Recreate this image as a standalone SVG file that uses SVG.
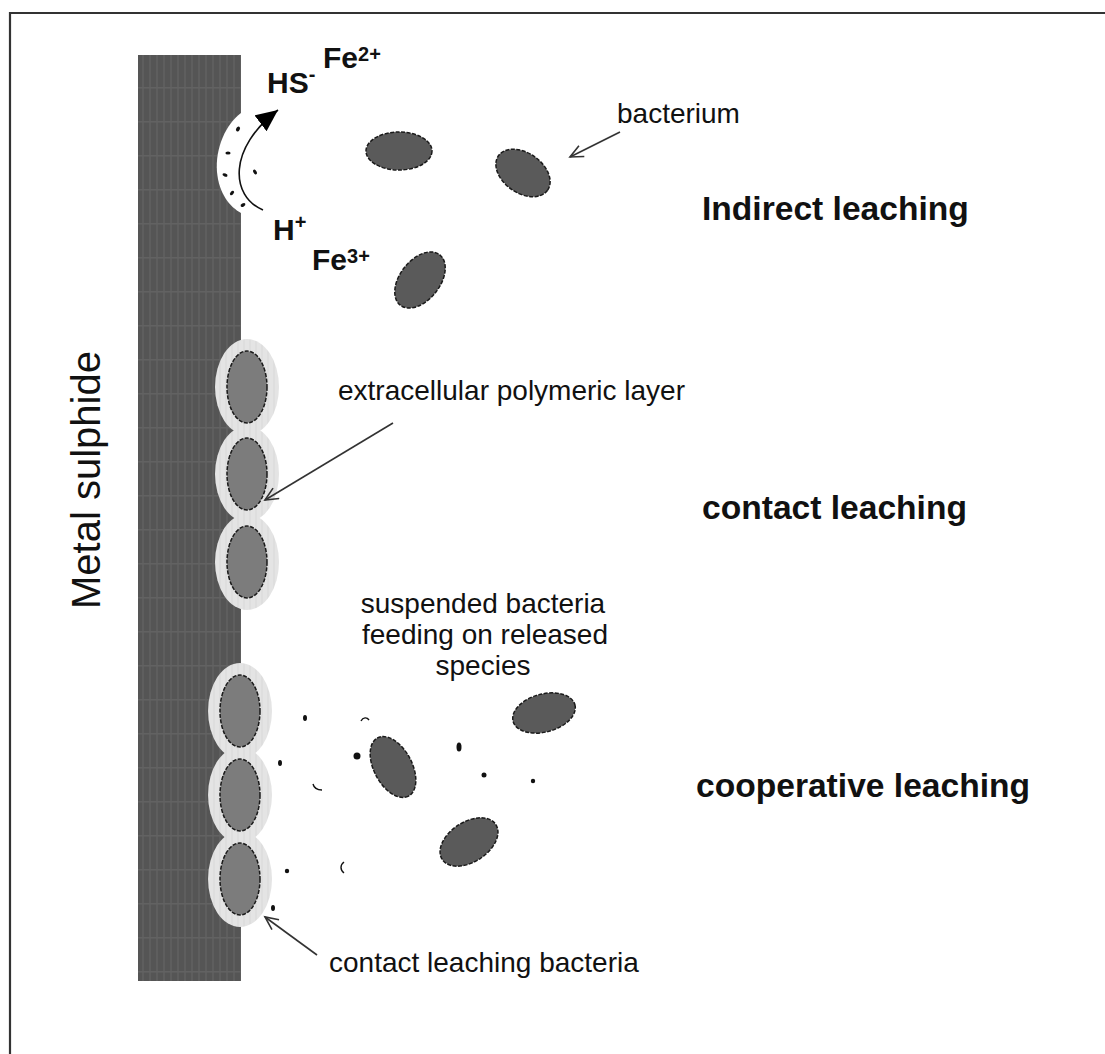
<svg xmlns="http://www.w3.org/2000/svg" width="1105" height="1054" viewBox="0 0 1105 1054">
  <style>
    .label { font-family: "Liberation Sans", Arial, sans-serif; font-size: 28px; fill: #111; }
    .head { font-family: "Liberation Sans", Arial, sans-serif; font-size: 33.6px; font-weight: bold; fill: #111; }
    .chem { font-family: "Liberation Sans", Arial, sans-serif; font-size: 30px; font-weight: bold; fill: #111; }
    .sup { font-size: 20px; }
    .cell { fill: #5a5a5a; stroke: #1a1a1a; stroke-width: 1.5; stroke-dasharray: 4 1.5; }
    .inner { fill: #7c7c7c; stroke: #1a1a1a; stroke-width: 1.5; stroke-dasharray: 4 1.5; }
    .halo { fill: url(#haloFill); }
    .dot { fill: #111; }
    .pointer { fill: none; stroke: #333; stroke-width: 1.6; marker-end: url(#openHead); }
  </style>
  <defs>
    <!-- striped mineral texture -->
    <pattern id="mineral" width="7" height="34" patternUnits="userSpaceOnUse" x="138" y="55">
      <rect width="7" height="34" fill="#555"/>
      <rect x="4" width="2" height="34" fill="#5e5e5e"/>
      <rect y="32" width="7" height="1.5" fill="#626262"/>
    </pattern>
    <pattern id="haloFill" width="6" height="10" patternUnits="userSpaceOnUse">
      <rect width="6" height="10" fill="#e4e4e4"/>
      <rect x="3" width="2" height="10" fill="#dedede"/>
    </pattern>
    <marker id="openHead" markerWidth="18" markerHeight="18" refX="14" refY="7" orient="auto" markerUnits="userSpaceOnUse">
      <path d="M1,1 L14,7 L1,13" fill="none" stroke="#333" stroke-width="1.6"/>
    </marker>
    <marker id="solidHead" markerWidth="26" markerHeight="22" refX="22" refY="10" orient="auto" markerUnits="userSpaceOnUse">
      <path d="M0,0 L22,10 L0,20 Z" fill="#000"/>
    </marker>
  </defs>

  <rect width="1105" height="1054" fill="#fff"/>

  <!-- frame -->
  <path d="M10,1054 V13 H1105" fill="none" stroke="#333" stroke-width="2.2"/>

  <!-- metal sulphide slab -->
  <g id="metal-sulphide">
    <rect x="138" y="55" width="103" height="926" fill="url(#mineral)"/>
    <!-- dissolution pit -->
    <path d="M241,113 C226,124 215,148 217,172 C219,194 230,207 241,213 Z" fill="#fff"/>
    <g class="dot">
      <ellipse cx="238" cy="129" rx="1.8" ry="2.6" transform="rotate(30 238 129)"/>
      <ellipse cx="228" cy="153" rx="2.6" ry="1.6"/>
      <ellipse cx="225" cy="175" rx="2.6" ry="1.6" transform="rotate(20 225 175)"/>
      <ellipse cx="255" cy="172" rx="1.6" ry="2.6" transform="rotate(-30 255 172)"/>
      <ellipse cx="232" cy="193" rx="1.6" ry="2.6" transform="rotate(40 232 193)"/>
      <ellipse cx="243" cy="205" rx="2.6" ry="1.6" transform="rotate(-30 243 205)"/>
    </g>
    <text class="label" transform="translate(100 480) rotate(-90)" text-anchor="middle" style="font-size:40px">Metal sulphide</text>
  </g>

  <!-- indirect leaching -->
  <g id="indirect-leaching">
    <text class="chem" x="267" y="93">HS<tspan class="sup" dy="-12">-</tspan></text>
    <text class="chem" x="323" y="68">Fe<tspan class="sup" dy="-7">2+</tspan></text>
    <text class="chem" x="273" y="240">H<tspan class="sup" dy="-11">+</tspan></text>
    <text class="chem" x="312" y="270">Fe<tspan class="sup" dy="-7">3+</tspan></text>
    <ellipse class="cell" cx="399" cy="151" rx="33" ry="19"/>
    <ellipse class="cell" cx="523" cy="173" rx="30" ry="20" transform="rotate(35 523 173)"/>
    <ellipse class="cell" cx="420" cy="280" rx="32" ry="20" transform="rotate(-52 420 280)"/>
    <text class="head" x="702" y="220">Indirect leaching</text>
  </g>

  <!-- contact leaching -->
  <g id="contact-leaching">
    <ellipse class="halo" cx="247" cy="387" rx="32" ry="48"/>
    <ellipse class="halo" cx="247" cy="474" rx="32" ry="48"/>
    <ellipse class="halo" cx="247" cy="562" rx="32" ry="48"/>
    <ellipse class="inner" cx="247" cy="387" rx="20" ry="36"/>
    <ellipse class="inner" cx="247" cy="474" rx="20" ry="36"/>
    <ellipse class="inner" cx="247" cy="562" rx="20" ry="36"/>
    <text class="head" x="702" y="519">contact leaching</text>
  </g>

  <!-- cooperative leaching -->
  <g id="cooperative-leaching">
    <ellipse class="halo" cx="240" cy="711" rx="32" ry="48"/>
    <ellipse class="halo" cx="240" cy="795" rx="32" ry="48"/>
    <ellipse class="halo" cx="240" cy="879" rx="32" ry="48"/>
    <ellipse class="inner" cx="240" cy="711" rx="20" ry="36"/>
    <ellipse class="inner" cx="240" cy="795" rx="20" ry="36"/>
    <ellipse class="inner" cx="240" cy="879" rx="20" ry="36"/>
    <ellipse class="cell" cx="544" cy="713" rx="32" ry="19" transform="rotate(-15 544 713)"/>
    <ellipse class="cell" cx="393" cy="767" rx="33" ry="19" transform="rotate(62 393 767)"/>
    <ellipse class="cell" cx="469" cy="842" rx="32" ry="20" transform="rotate(-33 469 842)"/>
    <!-- released species -->
    <g class="dot">
      <ellipse cx="305" cy="718" rx="2" ry="3"/>
      <ellipse cx="280" cy="763" rx="2" ry="3"/>
      <circle cx="357" cy="756" r="3.5"/>
      <ellipse cx="459" cy="747" rx="2.5" ry="4.5"/>
      <circle cx="484" cy="775" r="2.5"/>
      <circle cx="533" cy="781" r="2.2"/>
      <circle cx="287" cy="871" r="2.2"/>
      <ellipse cx="273" cy="908" rx="2" ry="3"/>
    </g>
    <g fill="none" stroke="#111" stroke-width="1.4">
      <path d="M361,721 C363,717 367,717 369,720"/>
      <path d="M313,784 C314,788 318,790 322,790"/>
      <path d="M344,862 C340,865 340,870 344,873"/>
    </g>
    <text class="head" x="696" y="797">cooperative leaching</text>
  </g>

  <!-- annotation texts -->
  <g id="annotations">
    <text class="label" x="617" y="123">bacterium</text>
    <text class="label" x="338" y="400">extracellular polymeric layer</text>
    <text class="label" x="483" y="613" text-anchor="middle">suspended bacteria</text>
    <text class="label" x="485" y="644" text-anchor="middle">feeding on released</text>
    <text class="label" x="483" y="675" text-anchor="middle">species</text>
    <text class="label" x="329" y="972">contact leaching bacteria</text>
  </g>

  <!-- connectors -->
  <g id="connectors">
    <path d="M263,210 C230,196 228,148 278,110" fill="none" stroke="#111" stroke-width="1.6" marker-end="url(#solidHead)"/>
    <line class="pointer" x1="620" y1="132" x2="570" y2="157"/>
    <line class="pointer" x1="393" y1="423" x2="265" y2="500"/>
    <line class="pointer" x1="317" y1="955" x2="265" y2="917"/>
  </g>
</svg>
